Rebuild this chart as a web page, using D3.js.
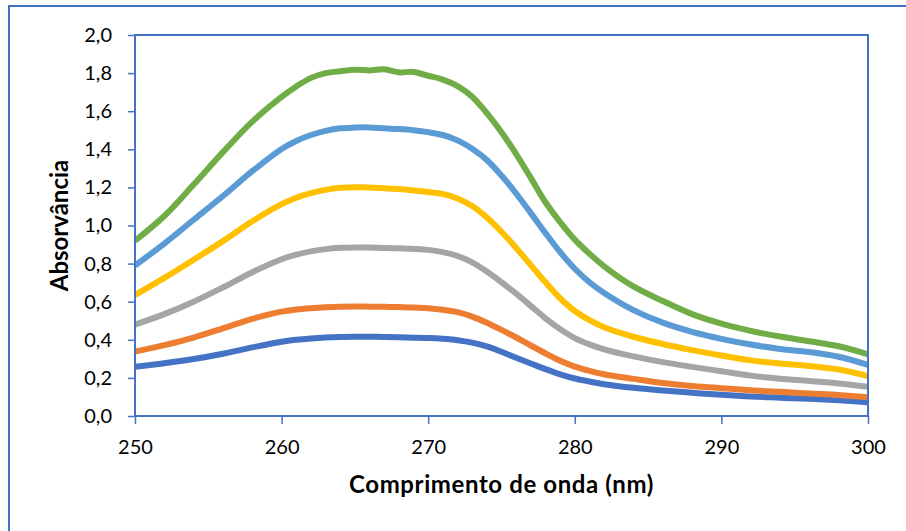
<!DOCTYPE html>
<html>
<head>
<meta charset="utf-8">
<script src="https://cdn.jsdelivr.net/npm/d3@7"></script>
<style>
  html, body { margin: 0; padding: 0; background: #fff; }
  svg { display: block; }
  text { font-family: Lato, "Open Sans", sans-serif; fill: #000; }
</style>
</head>
<body>
<svg id="chart" width="906" height="531"></svg>
<script>
// Wavelengths (nm)
const wavelengths = [250, 252, 254, 256, 258, 260, 261, 262, 263, 264, 265, 266, 267, 268, 269, 270,
  271, 272, 273, 274, 275, 276, 277, 278, 279, 280, 281, 282, 284, 286, 288, 290, 292, 294, 296, 298, 300];

// Absorbance spectra, one array per sample
const serie1 = [0.259, 0.277, 0.299, 0.327, 0.360, 0.390, 0.400, 0.407, 0.412, 0.415, 0.416, 0.416, 0.415, 0.413, 0.411, 0.409,
  0.405, 0.398, 0.385, 0.365, 0.337, 0.306, 0.276, 0.246, 0.219, 0.197, 0.181, 0.167, 0.148, 0.134, 0.122, 0.111, 0.102, 0.096, 0.090, 0.082, 0.072];
const serie2 = [0.338, 0.372, 0.412, 0.460, 0.510, 0.548, 0.559, 0.566, 0.571, 0.574, 0.575, 0.574, 0.573, 0.572, 0.569, 0.566,
  0.558, 0.545, 0.522, 0.490, 0.452, 0.412, 0.370, 0.329, 0.290, 0.259, 0.237, 0.219, 0.195, 0.173, 0.158, 0.146, 0.135, 0.127, 0.118, 0.110, 0.098];
const serie3 = [0.480, 0.535, 0.600, 0.675, 0.755, 0.823, 0.847, 0.864, 0.876, 0.883, 0.885, 0.884, 0.882, 0.880, 0.877, 0.872,
  0.860, 0.840, 0.806, 0.758, 0.702, 0.642, 0.578, 0.513, 0.456, 0.409, 0.376, 0.350, 0.313, 0.283, 0.258, 0.235, 0.212, 0.196, 0.184, 0.171, 0.154];
const serie4 = [0.635, 0.725, 0.820, 0.918, 1.022, 1.112, 1.146, 1.170, 1.187, 1.198, 1.201, 1.200, 1.196, 1.191, 1.184, 1.176,
  1.166, 1.142, 1.102, 1.042, 0.967, 0.882, 0.792, 0.702, 0.618, 0.551, 0.503, 0.466, 0.416, 0.378, 0.346, 0.318, 0.292, 0.276, 0.262, 0.244, 0.210];
const serie5 = [0.790, 0.905, 1.030, 1.155, 1.285, 1.402, 1.444, 1.475, 1.497, 1.510, 1.514, 1.515, 1.510, 1.506, 1.500, 1.490,
  1.475, 1.447, 1.403, 1.344, 1.262, 1.168, 1.065, 0.960, 0.860, 0.773, 0.702, 0.646, 0.556, 0.490, 0.442, 0.405, 0.375, 0.352, 0.336, 0.311, 0.268];
const serie6 = [0.920, 1.050, 1.215, 1.385, 1.545, 1.675, 1.730, 1.775, 1.800, 1.810, 1.818, 1.814, 1.820, 1.804, 1.806, 1.786,
  1.766, 1.732, 1.676, 1.590, 1.490, 1.375, 1.250, 1.122, 1.018, 0.926, 0.852, 0.786, 0.680, 0.604, 0.535, 0.485, 0.447, 0.417, 0.392, 0.366, 0.324];

const seriesValues = [serie1, serie2, serie3, serie4, serie5, serie6];
const seriesColors = ["#4472C4", "#ED7D31", "#A5A5A5", "#FFC000", "#5B9BD5", "#70AD47"];

const xTicks = [250, 260, 270, 280, 290, 300];
const yTicks = [0, 0.2, 0.4, 0.6, 0.8, 1.0, 1.2, 1.4, 1.6, 1.8, 2.0];

const xTitle = "Comprimento de onda (nm)";
const yTitle = "Absorvância";

const svg = d3.select("#chart");
const frameColor = "#4472C4";
const axisColor = "#4472C4";

// plot area
const plot = { left: 135, top: 35, right: 868, bottom: 416 };

const x = d3.scaleLinear().domain([250, 300]).range([plot.left, plot.right]);
const y = d3.scaleLinear().domain([0, 2.0]).range([plot.bottom, plot.top]);

// outer chart frame (extends past the right and bottom edges)
svg.append("rect")
  .attr("x", 9).attr("y", 6)
  .attr("width", 960).attr("height", 600)
  .attr("fill", "none")
  .attr("stroke", frameColor)
  .attr("stroke-width", 2);

const comma = v => d3.format(".1f")(v).replace(".", ",");

// y axis
const yAxis = svg.append("g")
  .attr("transform", `translate(${plot.left},0)`)
  .call(d3.axisLeft(y).tickValues(yTicks).tickFormat(comma).tickSize(7).tickPadding(16));
yAxis.select(".domain").remove();
yAxis.selectAll(".tick line").attr("stroke", axisColor).attr("stroke-width", 1.5);
yAxis.selectAll(".tick text")
  .style("font-family", "Lato, sans-serif")
  .style("font-size", "20px")
  .attr("fill", "#000");

// x axis
const xAxis = svg.append("g")
  .attr("transform", `translate(0,${plot.bottom})`)
  .call(d3.axisBottom(x).tickValues(xTicks).tickFormat(d3.format("d")).tickSize(8).tickPadding(16));
xAxis.select(".domain").remove();
xAxis.selectAll(".tick line").attr("stroke", axisColor).attr("stroke-width", 1.5);
xAxis.selectAll(".tick text")
  .style("font-family", "Lato, sans-serif")
  .style("font-size", "20px")
  .attr("fill", "#000");

// clip the spectra to the plot area
svg.append("clipPath").attr("id", "plotClip")
  .append("rect")
  .attr("x", plot.left).attr("y", plot.top - 10)
  .attr("width", plot.right - plot.left).attr("height", plot.bottom - plot.top + 10);

const line = d3.line()
  .x((d, i) => x(wavelengths[i]))
  .y(d => y(d))
  .curve(d3.curveCatmullRom.alpha(0.5));

svg.append("g").attr("clip-path", "url(#plotClip)")
  .selectAll("path")
  .data(seriesValues)
  .join("path")
  .attr("d", d => line(d))
  .attr("fill", "none")
  .attr("stroke", (d, i) => seriesColors[i])
  .attr("stroke-width", 6)
  .attr("stroke-linejoin", "round")
  .attr("stroke-linecap", "butt");

// plot area border
svg.append("rect")
  .attr("x", plot.left).attr("y", plot.top)
  .attr("width", plot.right - plot.left).attr("height", plot.bottom - plot.top)
  .attr("fill", "none")
  .attr("stroke", axisColor)
  .attr("stroke-width", 2);

// axis titles
svg.append("text")
  .attr("x", (plot.left + plot.right) / 2)
  .attr("y", 493)
  .attr("text-anchor", "middle")
  .style("font-size", "24px")
  .style("font-weight", "bold")
  .style("letter-spacing", "0.6px")
  .text(xTitle);

svg.append("text")
  .attr("transform", `translate(68,${(plot.top + plot.bottom) / 2}) rotate(-90)`)
  .attr("text-anchor", "middle")
  .style("font-size", "24px")
  .style("font-weight", "bold")
  .text(yTitle);
</script>
</body>
</html>
